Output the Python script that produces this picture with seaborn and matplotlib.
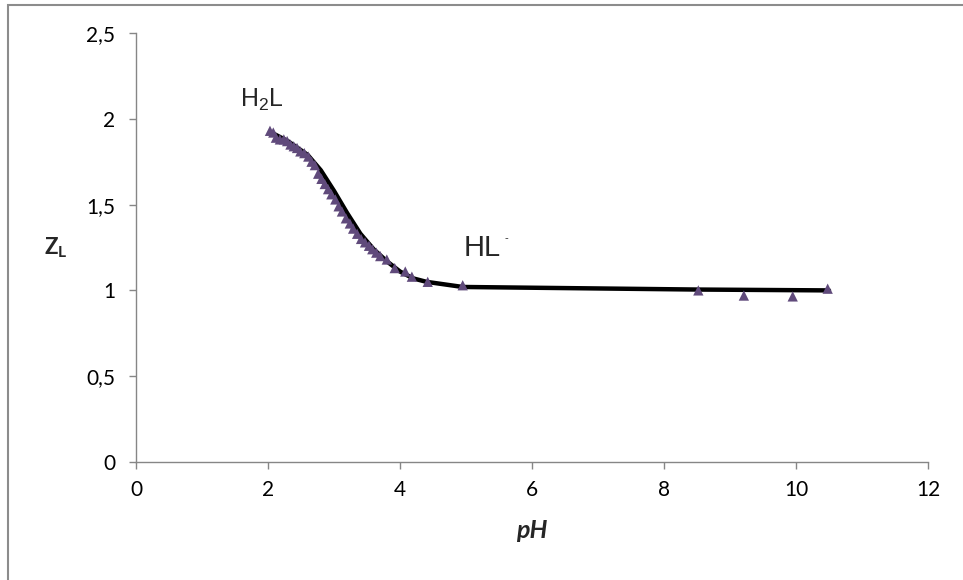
import matplotlib
matplotlib.use("Agg")
import matplotlib.pyplot as plt
import seaborn as sns
import pandas as pd
from matplotlib.patches import Rectangle


# measured points (pH, Z_L)
PH_POINTS = [2.03, 2.08, 2.12, 2.18, 2.24, 2.29, 2.34, 2.39, 2.44, 2.49,
             2.55, 2.61, 2.66, 2.71, 2.76, 2.81, 2.86, 2.91, 2.96, 3.02,
             3.07, 3.12, 3.18, 3.24, 3.29, 3.35, 3.41, 3.47, 3.53, 3.58,
             3.64, 3.70, 3.80, 3.92, 4.08, 4.18, 4.42, 4.95, 8.52, 9.21,
             9.95, 10.48]
Z_POINTS = [1.93, 1.92, 1.89, 1.88, 1.88, 1.87, 1.85, 1.84, 1.83, 1.81,
            1.80, 1.78, 1.75, 1.73, 1.68, 1.65, 1.62, 1.59, 1.56, 1.53,
            1.49, 1.46, 1.42, 1.39, 1.36, 1.33, 1.30, 1.28, 1.26, 1.24,
            1.22, 1.20, 1.18, 1.13, 1.11, 1.08, 1.05, 1.03, 1.00, 0.97,
            0.965, 1.01]

# fitted curve
PH_FIT = [2.05, 2.3, 2.6, 2.8, 3.0, 3.2, 3.4, 3.6, 3.8, 4.0, 4.2, 4.4,
          4.95, 8.5, 10.5]
Z_FIT = [1.92, 1.87, 1.79, 1.70, 1.58, 1.45, 1.33, 1.24, 1.17, 1.11,
         1.07, 1.05, 1.02, 1.005, 1.0]

X_TICKS = [0, 2, 4, 6, 8, 10, 12]
Y_TICKS = [0, 0.5, 1, 1.5, 2, 2.5]
Y_TICK_LABELS = ["0", "0,5", "1", "1,5", "2", "2,5"]

sns.set_style("white")
plt.rcParams["font.family"] = ["Lato", "DejaVu Sans"]
plt.rcParams["mathtext.fontset"] = "custom"
plt.rcParams["mathtext.rm"] = "Liberation Sans"
plt.rcParams["mathtext.bf"] = "Lato:bold"

points = pd.DataFrame({"pH": PH_POINTS, "Z": Z_POINTS})
fit = pd.DataFrame({"pH": PH_FIT, "Z": Z_FIT})

fig = plt.figure(figsize=(9.63, 5.8), dpi=100)
ax = fig.add_axes([136 / 963, 1 - 462 / 580, 792 / 963, 429 / 580])

sns.lineplot(data=fit, x="pH", y="Z", color="black", lw=3.2, ax=ax)
sns.scatterplot(data=points, x="pH", y="Z", marker="^", s=55,
                color="#604a7b", edgecolor="none", ax=ax, zorder=3)

ax.set_xlim(0, 12)
ax.set_ylim(0, 2.5)
ax.set_xticks(X_TICKS)
ax.set_yticks(Y_TICKS)
ax.set_yticklabels(Y_TICK_LABELS)

for side in ["top", "right"]:
    ax.spines[side].set_visible(False)
for side in ["left", "bottom"]:
    ax.spines[side].set_color("#868686")
    ax.spines[side].set_linewidth(1)
ax.tick_params(axis="both", direction="out", length=5, width=1,
               bottom=True, left=True, color="#868686", labelsize=15,
               labelcolor="black")
ax.tick_params(axis="x", pad=8)
ax.tick_params(axis="y", pad=10)

ax.set_xlabel("pH", fontsize=18, fontweight="bold", fontstyle="italic",
              labelpad=14)
ax.set_ylabel(r"$\mathbf{Z_L}$", fontsize=16, rotation=0, labelpad=22,
              va="center")

ax.text(1.58, 2.069, r"H$_2$L", fontsize=18, family="Liberation Sans",
        va="baseline")
ax.text(4.97, 1.20, "HL", fontsize=21, family="Liberation Sans",
        va="baseline")
ax.text(5.58, 1.305, "-", fontsize=8, family="Liberation Sans",
        va="center")

fig.patches.append(Rectangle((8 / 963, -0.1), 1.2, 1.1 - 5 / 580,
                             transform=fig.transFigure, fill=False,
                             edgecolor="#8c8c8c", lw=1.5))

fig.savefig("out.png", dpi=100)
